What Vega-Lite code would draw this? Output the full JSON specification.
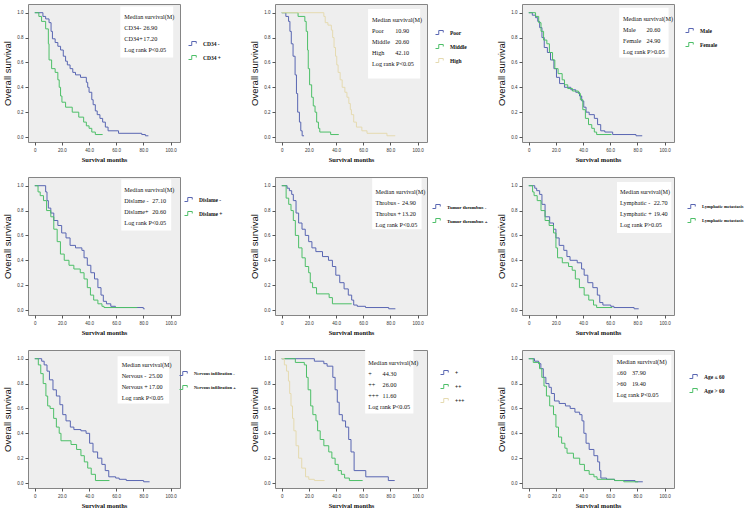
{
"$schema":"https://vega.github.io/schema/vega-lite/v6.json",
"background":"white",
"padding":{"left":2,"top":3,"right":0,"bottom":0},
"columns":3,
"spacing":{"row":35,"column":95},
"bounds":"flush",
"align":"all",
"resolve":{"scale":{"color":"independent"},"legend":{"color":"independent"}},
"config":{
 "view":{"fill":"#eeeeee","stroke":"#858585","strokeWidth":1},
 "axis":{"domain":false,"grid":false,"tickSize":3,"tickColor":"#555","labelFontSize":4.5,"labelColor":"#333","labelFont":"Liberation Sans","labelPadding":2,"labelOverlap":false,"labelFlush":false,"labelSeparation":0},
 "axisX":{"titleFont":"Liberation Serif","titleFontSize":6.5,"titleFontWeight":"bold","titlePadding":5,"titleColor":"#111"},
 "axisY":{"titleFont":"Liberation Sans","titleFontSize":9.5,"titleFontWeight":"normal","titlePadding":4,"titleColor":"#111"},
 "legend":{"orient":"none","symbolType":"M-1,0.4L-0.35,0.4L-0.35,-0.4L0.55,-0.4L0.55,0","symbolSize":100,"symbolStrokeWidth":1,"symbolFillColor":"transparent","labelFont":"Liberation Serif","labelFontSize":5.5,"labelFontWeight":"bold","labelColor":"#111","rowPadding":4,"labelOffset":4,"padding":0},
 "text":{"font":"Liberation Serif","fontSize":6.2,"align":"left","baseline":"top","lineHeight":11,"color":"#111"},
 "line":{"interpolate":"step-after","strokeWidth":1}
},
"concat":[
{"width":152,"height":138,"layer":[
 {"data":{"values":[{}]},"mark":{"type":"rect","fill":"white"},"encoding":{"x":{"datum":63},"x2":{"datum":102},"y":{"datum":1.05},"y2":{"datum":0.64}}},
 {"data":{"values":[
  {"g":"CD34 -","t":0,"s":1},{"g":"CD34 -","t":6,"s":0.97},{"g":"CD34 -","t":8,"s":0.95},{"g":"CD34 -","t":10.5,"s":0.92},{"g":"CD34 -","t":12,"s":0.85},{"g":"CD34 -","t":13,"s":0.79},{"g":"CD34 -","t":15,"s":0.76},{"g":"CD34 -","t":17,"s":0.73},{"g":"CD34 -","t":19,"s":0.7},{"g":"CD34 -","t":21,"s":0.65},{"g":"CD34 -","t":22.7,"s":0.61},{"g":"CD34 -","t":24,"s":0.58},{"g":"CD34 -","t":26,"s":0.55},{"g":"CD34 -","t":28,"s":0.52},{"g":"CD34 -","t":30,"s":0.5},{"g":"CD34 -","t":33.7,"s":0.48},{"g":"CD34 -","t":38,"s":0.44},{"g":"CD34 -","t":39,"s":0.4},{"g":"CD34 -","t":40,"s":0.36},{"g":"CD34 -","t":42,"s":0.3},{"g":"CD34 -","t":43,"s":0.26},{"g":"CD34 -","t":44.6,"s":0.21},{"g":"CD34 -","t":46,"s":0.18},{"g":"CD34 -","t":48,"s":0.15},{"g":"CD34 -","t":50,"s":0.12},{"g":"CD34 -","t":52,"s":0.08},{"g":"CD34 -","t":54,"s":0.05},{"g":"CD34 -","t":61.7,"s":0.03},{"g":"CD34 -","t":78.8,"s":0.02},{"g":"CD34 -","t":81.5,"s":0.01},{"g":"CD34 -","t":83.7,"s":0.01},
  {"g":"CD34 +","t":0,"s":1},{"g":"CD34 +","t":3,"s":0.97},{"g":"CD34 +","t":5,"s":0.93},{"g":"CD34 +","t":8,"s":0.87},{"g":"CD34 +","t":10,"s":0.75},{"g":"CD34 +","t":10.5,"s":0.62},{"g":"CD34 +","t":12.4,"s":0.55},{"g":"CD34 +","t":15,"s":0.52},{"g":"CD34 +","t":17,"s":0.46},{"g":"CD34 +","t":18,"s":0.4},{"g":"CD34 +","t":19,"s":0.33},{"g":"CD34 +","t":20,"s":0.28},{"g":"CD34 +","t":22.7,"s":0.24},{"g":"CD34 +","t":27.6,"s":0.2},{"g":"CD34 +","t":32.4,"s":0.16},{"g":"CD34 +","t":36,"s":0.12},{"g":"CD34 +","t":38,"s":0.09},{"g":"CD34 +","t":40,"s":0.07},{"g":"CD34 +","t":42,"s":0.04},{"g":"CD34 +","t":44.6,"s":0.02},{"g":"CD34 +","t":50,"s":0.02}
 ]},"mark":"line","encoding":{
  "x":{"field":"t","type":"quantitative","scale":{"domain":[-5,107],"nice":false,"zero":false},"axis":{"values":[0,20,40,60,80,100],"labelOverlap":false,"tickCount":6,"labelExpr":"datum.value==0?'0':format(datum.value,'.1f')","title":"Survival months"}},
  "y":{"field":"s","type":"quantitative","scale":{"domain":[-0.04,1.07],"nice":false,"zero":false},"axis":{"values":[0,0.2,0.4,0.6,0.8,1],"labelOverlap":false,"tickCount":6,"format":".1f","title":"Overall survival"}},
  "color":{"field":"g","type":"nominal","scale":{"domain":["CD34 -","CD34 +"],"range":["#5966b2","#4dbf68"]},"legend":{"title":null,"legendX":160,"legendY":34}}}},
 {"data":{"values":[{"a":["Median survival(M)","CD34-","CD34+","Log rank  P<0.05"],"b":["","26.90","17.20",""]}]},"mark":"text","encoding":{"x":{"datum":66},"y":{"datum":0.987},"text":{"field":"a"}}},
 {"data":{"values":[{"a":["Median survival(M)","CD34-","CD34+","Log rank  P<0.05"],"b":["","26.90","17.20",""]}]},"mark":"text","encoding":{"x":{"datum":80},"y":{"datum":0.987},"text":{"field":"b"}}}
]},
{"width":152,"height":138,"layer":[
 {"data":{"values":[{}]},"mark":{"type":"rect","fill":"white"},"encoding":{"x":{"datum":63.6},"x2":{"datum":102},"y":{"datum":1.03},"y2":{"datum":0.47}}},
 {"data":{"values":[
  {"g":"Poor","t":0,"s":1},{"g":"Poor","t":3,"s":0.97},{"g":"Poor","t":5,"s":0.93},{"g":"Poor","t":6,"s":0.85},{"g":"Poor","t":7,"s":0.75},{"g":"Poor","t":8.3,"s":0.65},{"g":"Poor","t":9.8,"s":0.5},{"g":"Poor","t":10.8,"s":0.35},{"g":"Poor","t":11.7,"s":0.2},{"g":"Poor","t":13,"s":0.12},{"g":"Poor","t":14,"s":0.05},{"g":"Poor","t":15,"s":0.01},{"g":"Poor","t":16.4,"s":0.01},
  {"g":"Middle","t":0,"s":1},{"g":"Middle","t":12,"s":0.97},{"g":"Middle","t":17,"s":0.93},{"g":"Middle","t":18,"s":0.85},{"g":"Middle","t":19,"s":0.7},{"g":"Middle","t":19.5,"s":0.55},{"g":"Middle","t":20.5,"s":0.42},{"g":"Middle","t":22,"s":0.32},{"g":"Middle","t":23.2,"s":0.25},{"g":"Middle","t":24.5,"s":0.2},{"g":"Middle","t":25.7,"s":0.12},{"g":"Middle","t":27,"s":0.07},{"g":"Middle","t":28,"s":0.04},{"g":"Middle","t":36,"s":0.02},{"g":"Middle","t":42,"s":0.02},
  {"g":"High","t":0,"s":1},{"g":"High","t":31,"s":0.97},{"g":"High","t":32,"s":0.92},{"g":"High","t":34,"s":0.9},{"g":"High","t":36.5,"s":0.86},{"g":"High","t":37.5,"s":0.8},{"g":"High","t":38.5,"s":0.72},{"g":"High","t":39.6,"s":0.65},{"g":"High","t":40.5,"s":0.58},{"g":"High","t":41.5,"s":0.52},{"g":"High","t":43,"s":0.46},{"g":"High","t":44.5,"s":0.4},{"g":"High","t":46.5,"s":0.36},{"g":"High","t":48,"s":0.32},{"g":"High","t":49.4,"s":0.27},{"g":"High","t":50.5,"s":0.22},{"g":"High","t":51.3,"s":0.18},{"g":"High","t":53,"s":0.12},{"g":"High","t":55,"s":0.08},{"g":"High","t":59,"s":0.05},{"g":"High","t":62.8,"s":0.03},{"g":"High","t":77.5,"s":0.01},{"g":"High","t":83.6,"s":0.01}
 ]},"mark":"line","encoding":{
  "x":{"field":"t","type":"quantitative","scale":{"domain":[-5,107],"nice":false,"zero":false},"axis":{"values":[0,20,40,60,80,100],"labelOverlap":false,"tickCount":6,"labelExpr":"datum.value==0?'0':format(datum.value,'.1f')","title":"Survival months"}},
  "y":{"field":"s","type":"quantitative","scale":{"domain":[-0.04,1.07],"nice":false,"zero":false},"axis":{"values":[0,0.2,0.4,0.6,0.8,1],"labelOverlap":false,"tickCount":6,"format":".1f","title":"Overall survival"}},
  "color":{"field":"g","type":"nominal","scale":{"domain":["Poor","Middle","High"],"range":["#5966b2","#4dbf68","#e5dab0"]},"legend":{"title":null,"legendX":160,"legendY":23}}}},
 {"data":{"values":[{"a":["Median survival(M)","Poor","Middle","High","Log rank  P<0.05"],"b":["","10.90","20.60","42.10",""]}]},"mark":"text","encoding":{"x":{"datum":66.5},"y":{"datum":0.967},"text":{"field":"a"}}},
 {"data":{"values":[{"a":["Median survival(M)","Poor","Middle","High","Log rank  P<0.05"],"b":["","10.90","20.60","42.10",""]}]},"mark":"text","encoding":{"x":{"datum":83.6},"y":{"datum":0.967},"text":{"field":"b"}}}
]},
{"width":152,"height":138,"layer":[
 {"data":{"values":[{}]},"mark":{"type":"rect","fill":"white"},"encoding":{"x":{"datum":66.6},"x2":{"datum":103},"y":{"datum":1.04},"y2":{"datum":0.64}}},
 {"data":{"values":[
  {"g":"Male","t":0,"s":1},{"g":"Male","t":2.6,"s":0.98},{"g":"Male","t":5,"s":0.96},{"g":"Male","t":6.6,"s":0.93},{"g":"Male","t":8,"s":0.88},{"g":"Male","t":9.7,"s":0.8},{"g":"Male","t":11.4,"s":0.72},{"g":"Male","t":13.7,"s":0.68},{"g":"Male","t":16,"s":0.62},{"g":"Male","t":18.5,"s":0.55},{"g":"Male","t":20.4,"s":0.48},{"g":"Male","t":22.7,"s":0.43},{"g":"Male","t":26.3,"s":0.4},{"g":"Male","t":31,"s":0.38},{"g":"Male","t":34.6,"s":0.36},{"g":"Male","t":37.4,"s":0.33},{"g":"Male","t":39,"s":0.29},{"g":"Male","t":40.5,"s":0.24},{"g":"Male","t":42.2,"s":0.2},{"g":"Male","t":44.5,"s":0.18},{"g":"Male","t":48.3,"s":0.15},{"g":"Male","t":50.7,"s":0.1},{"g":"Male","t":53,"s":0.05},{"g":"Male","t":56,"s":0.04},{"g":"Male","t":61.8,"s":0.02},{"g":"Male","t":79,"s":0.01},{"g":"Male","t":83.6,"s":0.01},
  {"g":"Female","t":0,"s":1},{"g":"Female","t":5,"s":0.97},{"g":"Female","t":7.3,"s":0.92},{"g":"Female","t":9,"s":0.85},{"g":"Female","t":10.9,"s":0.78},{"g":"Female","t":13.3,"s":0.75},{"g":"Female","t":15.2,"s":0.68},{"g":"Female","t":17.5,"s":0.62},{"g":"Female","t":19.2,"s":0.55},{"g":"Female","t":21.6,"s":0.51},{"g":"Female","t":24.6,"s":0.46},{"g":"Female","t":26.3,"s":0.42},{"g":"Female","t":28.7,"s":0.39},{"g":"Female","t":32.2,"s":0.37},{"g":"Female","t":36.5,"s":0.35},{"g":"Female","t":38,"s":0.3},{"g":"Female","t":39.8,"s":0.22},{"g":"Female","t":41.7,"s":0.15},{"g":"Female","t":44,"s":0.1},{"g":"Female","t":46.4,"s":0.07},{"g":"Female","t":48.3,"s":0.04},{"g":"Female","t":50,"s":0.02},{"g":"Female","t":61,"s":0.02}
 ]},"mark":"line","encoding":{
  "x":{"field":"t","type":"quantitative","scale":{"domain":[-5,107],"nice":false,"zero":false},"axis":{"values":[0,20,40,60,80,100],"labelOverlap":false,"tickCount":6,"labelExpr":"datum.value==0?'0':format(datum.value,'.1f')","title":"Survival months"}},
  "y":{"field":"s","type":"quantitative","scale":{"domain":[-0.04,1.07],"nice":false,"zero":false},"axis":{"values":[0,0.2,0.4,0.6,0.8,1],"labelOverlap":false,"tickCount":6,"format":".1f","title":"Overall survival"}},
  "color":{"field":"g","type":"nominal","scale":{"domain":["Male","Female"],"range":["#5966b2","#4dbf68"]},"legend":{"title":null,"legendX":163,"legendY":21}}}},
 {"data":{"values":[{"a":["Median survival(M)","Male","Female","Log rank  P>0.05"],"b":["","20.60","24.90",""]}]},"mark":"text","encoding":{"x":{"datum":69.4},"y":{"datum":0.977},"text":{"field":"a"}}},
 {"data":{"values":[{"a":["Median survival(M)","Male","Female","Log rank  P>0.05"],"b":["","20.60","24.90",""]}]},"mark":"text","encoding":{"x":{"datum":86.7},"y":{"datum":0.977},"text":{"field":"b"}}}
]},
{"width":152,"height":138,"layer":[
 {"data":{"values":[{}]},"mark":{"type":"rect","fill":"white"},"encoding":{"x":{"datum":63.7},"x2":{"datum":100.5},"y":{"datum":1.05},"y2":{"datum":0.64}}},
 {"data":{"values":[
  {"g":"Dislame  -","t":0,"s":1},{"g":"Dislame  -","t":8,"s":0.95},{"g":"Dislame  -","t":9,"s":0.88},{"g":"Dislame  -","t":10,"s":0.82},{"g":"Dislame  -","t":11.8,"s":0.78},{"g":"Dislame  -","t":14,"s":0.72},{"g":"Dislame  -","t":17,"s":0.68},{"g":"Dislame  -","t":19.8,"s":0.62},{"g":"Dislame  -","t":23,"s":0.58},{"g":"Dislame  -","t":26,"s":0.52},{"g":"Dislame  -","t":30,"s":0.5},{"g":"Dislame  -","t":34.7,"s":0.48},{"g":"Dislame  -","t":36.3,"s":0.42},{"g":"Dislame  -","t":38.7,"s":0.36},{"g":"Dislame  -","t":41.3,"s":0.3},{"g":"Dislame  -","t":44,"s":0.25},{"g":"Dislame  -","t":46.5,"s":0.18},{"g":"Dislame  -","t":48.8,"s":0.12},{"g":"Dislame  -","t":50.5,"s":0.07},{"g":"Dislame  -","t":52.8,"s":0.05},{"g":"Dislame  -","t":56,"s":0.03},{"g":"Dislame  -","t":59.4,"s":0.02},{"g":"Dislame  -","t":80,"s":0.01},{"g":"Dislame  -","t":81,"s":0.01},
  {"g":"Dislame  +","t":0,"s":1},{"g":"Dislame  +","t":2.4,"s":0.95},{"g":"Dislame  +","t":4,"s":0.92},{"g":"Dislame  +","t":6.4,"s":0.88},{"g":"Dislame  +","t":8.7,"s":0.8},{"g":"Dislame  +","t":11.8,"s":0.75},{"g":"Dislame  +","t":14,"s":0.65},{"g":"Dislame  +","t":16.5,"s":0.55},{"g":"Dislame  +","t":18.9,"s":0.45},{"g":"Dislame  +","t":21.7,"s":0.4},{"g":"Dislame  +","t":25.2,"s":0.36},{"g":"Dislame  +","t":28.8,"s":0.33},{"g":"Dislame  +","t":33.5,"s":0.3},{"g":"Dislame  +","t":36.3,"s":0.25},{"g":"Dislame  +","t":38.7,"s":0.18},{"g":"Dislame  +","t":41,"s":0.12},{"g":"Dislame  +","t":43.4,"s":0.08},{"g":"Dislame  +","t":46.5,"s":0.05},{"g":"Dislame  +","t":49.5,"s":0.03},{"g":"Dislame  +","t":51,"s":0.02},{"g":"Dislame  +","t":75.5,"s":0.02}
 ]},"mark":"line","encoding":{
  "x":{"field":"t","type":"quantitative","scale":{"domain":[-5,107],"nice":false,"zero":false},"axis":{"values":[0,20,40,60,80,100],"labelOverlap":false,"tickCount":6,"labelExpr":"datum.value==0?'0':format(datum.value,'.1f')","title":"Survival months"}},
  "y":{"field":"s","type":"quantitative","scale":{"domain":[-0.04,1.07],"nice":false,"zero":false},"axis":{"values":[0,0.2,0.4,0.6,0.8,1],"labelOverlap":false,"tickCount":6,"format":".1f","title":"Overall survival"}},
  "color":{"field":"g","type":"nominal","scale":{"domain":["Dislame  -","Dislame  +"],"range":["#5966b2","#4dbf68"]},"legend":{"title":null,"legendX":156,"legendY":17}}}},
 {"data":{"values":[{"a":["Median survival(M)","Dislame -","Dislame+","Log rank  P<0.05"],"b":["","27.10","20.60",""]}]},"mark":"text","encoding":{"x":{"datum":66},"y":{"datum":0.987},"text":{"field":"a"}}},
 {"data":{"values":[{"a":["Median survival(M)","Dislame -","Dislame+","Log rank  P<0.05"],"b":["","27.10","20.60",""]}]},"mark":"text","encoding":{"x":{"datum":86.5},"y":{"datum":0.987},"text":{"field":"b"}}}
]},
{"width":152,"height":138,"layer":[
 {"data":{"values":[{}]},"mark":{"type":"rect","fill":"white"},"encoding":{"x":{"datum":66.6},"x2":{"datum":103},"y":{"datum":1.06},"y2":{"datum":0.65}}},
 {"data":{"values":[
  {"g":"Tumor thrombus -","t":0,"s":1},{"g":"Tumor thrombus -","t":3.9,"s":0.98},{"g":"Tumor thrombus -","t":5.6,"s":0.96},{"g":"Tumor thrombus -","t":7.3,"s":0.93},{"g":"Tumor thrombus -","t":8.5,"s":0.88},{"g":"Tumor thrombus -","t":10.5,"s":0.78},{"g":"Tumor thrombus -","t":12.4,"s":0.7},{"g":"Tumor thrombus -","t":14.9,"s":0.65},{"g":"Tumor thrombus -","t":17.3,"s":0.6},{"g":"Tumor thrombus -","t":19.8,"s":0.55},{"g":"Tumor thrombus -","t":22.2,"s":0.5},{"g":"Tumor thrombus -","t":25.1,"s":0.47},{"g":"Tumor thrombus -","t":30,"s":0.43},{"g":"Tumor thrombus -","t":34.4,"s":0.4},{"g":"Tumor thrombus -","t":37.3,"s":0.35},{"g":"Tumor thrombus -","t":39.8,"s":0.28},{"g":"Tumor thrombus -","t":42.7,"s":0.22},{"g":"Tumor thrombus -","t":45.9,"s":0.17},{"g":"Tumor thrombus -","t":49,"s":0.12},{"g":"Tumor thrombus -","t":51.5,"s":0.08},{"g":"Tumor thrombus -","t":53,"s":0.04},{"g":"Tumor thrombus -","t":55.6,"s":0.03},{"g":"Tumor thrombus -","t":61.7,"s":0.02},{"g":"Tumor thrombus -","t":78.8,"s":0.01},{"g":"Tumor thrombus -","t":83.7,"s":0.01},
  {"g":"Tumor thrombus +","t":0,"s":1},{"g":"Tumor thrombus +","t":3.2,"s":0.9},{"g":"Tumor thrombus +","t":5.1,"s":0.85},{"g":"Tumor thrombus +","t":6.8,"s":0.8},{"g":"Tumor thrombus +","t":8.5,"s":0.72},{"g":"Tumor thrombus +","t":10,"s":0.6},{"g":"Tumor thrombus +","t":12.4,"s":0.5},{"g":"Tumor thrombus +","t":14.9,"s":0.42},{"g":"Tumor thrombus +","t":17.3,"s":0.35},{"g":"Tumor thrombus +","t":19.8,"s":0.3},{"g":"Tumor thrombus +","t":21,"s":0.22},{"g":"Tumor thrombus +","t":22.7,"s":0.18},{"g":"Tumor thrombus +","t":25.6,"s":0.13},{"g":"Tumor thrombus +","t":34.9,"s":0.1},{"g":"Tumor thrombus +","t":37.3,"s":0.05},{"g":"Tumor thrombus +","t":51.5,"s":0.05}
 ]},"mark":"line","encoding":{
  "x":{"field":"t","type":"quantitative","scale":{"domain":[-5,107],"nice":false,"zero":false},"axis":{"values":[0,20,40,60,80,100],"labelOverlap":false,"tickCount":6,"labelExpr":"datum.value==0?'0':format(datum.value,'.1f')","title":"Survival months"}},
  "y":{"field":"s","type":"quantitative","scale":{"domain":[-0.04,1.07],"nice":false,"zero":false},"axis":{"values":[0,0.2,0.4,0.6,0.8,1],"labelOverlap":false,"tickCount":6,"format":".1f","title":"Overall survival"}},
  "color":{"field":"g","type":"nominal","scale":{"domain":["Tumor thrombus -","Tumor thrombus +"],"range":["#5966b2","#4dbf68"]},"legend":{"title":null,"legendX":157,"legendY":24,"labelFontSize":5}}}},
 {"data":{"values":[{"a":["Median survival(M)","Throbus -","Throbus +","Log rank  P<0.05"],"b":["","24.90","13.20",""]}]},"mark":"text","encoding":{"x":{"datum":69},"y":{"datum":0.977},"text":{"field":"a"}}},
 {"data":{"values":[{"a":["Median survival(M)","Throbus -","Throbus +","Log rank  P<0.05"],"b":["","24.90","13.20",""]}]},"mark":"text","encoding":{"x":{"datum":88.5},"y":{"datum":0.977},"text":{"field":"b"}}}
]},
{"width":152,"height":138,"layer":[
 {"data":{"values":[{}]},"mark":{"type":"rect","fill":"white"},"encoding":{"x":{"datum":65},"x2":{"datum":105},"y":{"datum":1.03},"y2":{"datum":0.62}}},
 {"data":{"values":[
  {"g":"Lymphatic metastasis -","t":0,"s":1},{"g":"Lymphatic metastasis -","t":4.4,"s":0.98},{"g":"Lymphatic metastasis -","t":5.8,"s":0.96},{"g":"Lymphatic metastasis -","t":8,"s":0.93},{"g":"Lymphatic metastasis -","t":9.7,"s":0.85},{"g":"Lymphatic metastasis -","t":12,"s":0.75},{"g":"Lymphatic metastasis -","t":15.4,"s":0.7},{"g":"Lymphatic metastasis -","t":18.2,"s":0.65},{"g":"Lymphatic metastasis -","t":20,"s":0.58},{"g":"Lymphatic metastasis -","t":22.4,"s":0.52},{"g":"Lymphatic metastasis -","t":25.8,"s":0.48},{"g":"Lymphatic metastasis -","t":28.1,"s":0.43},{"g":"Lymphatic metastasis -","t":30.4,"s":0.4},{"g":"Lymphatic metastasis -","t":35.7,"s":0.38},{"g":"Lymphatic metastasis -","t":38.9,"s":0.33},{"g":"Lymphatic metastasis -","t":40.8,"s":0.28},{"g":"Lymphatic metastasis -","t":43.5,"s":0.22},{"g":"Lymphatic metastasis -","t":47.2,"s":0.18},{"g":"Lymphatic metastasis -","t":50.5,"s":0.12},{"g":"Lymphatic metastasis -","t":52.3,"s":0.06},{"g":"Lymphatic metastasis -","t":54.6,"s":0.04},{"g":"Lymphatic metastasis -","t":60.4,"s":0.03},{"g":"Lymphatic metastasis -","t":62.7,"s":0.02},{"g":"Lymphatic metastasis -","t":77.6,"s":0.01},{"g":"Lymphatic metastasis -","t":81,"s":0.01},
  {"g":"Lymphatic metastasis +","t":0,"s":1},{"g":"Lymphatic metastasis +","t":2.8,"s":0.95},{"g":"Lymphatic metastasis +","t":3.9,"s":0.92},{"g":"Lymphatic metastasis +","t":6.2,"s":0.88},{"g":"Lymphatic metastasis +","t":9,"s":0.8},{"g":"Lymphatic metastasis +","t":12,"s":0.72},{"g":"Lymphatic metastasis +","t":15,"s":0.68},{"g":"Lymphatic metastasis +","t":18.2,"s":0.62},{"g":"Lymphatic metastasis +","t":20,"s":0.5},{"g":"Lymphatic metastasis +","t":21.2,"s":0.42},{"g":"Lymphatic metastasis +","t":24.7,"s":0.38},{"g":"Lymphatic metastasis +","t":29.3,"s":0.35},{"g":"Lymphatic metastasis +","t":32,"s":0.32},{"g":"Lymphatic metastasis +","t":34.3,"s":0.25},{"g":"Lymphatic metastasis +","t":37.3,"s":0.18},{"g":"Lymphatic metastasis +","t":40.8,"s":0.12},{"g":"Lymphatic metastasis +","t":44.2,"s":0.08},{"g":"Lymphatic metastasis +","t":47.7,"s":0.04},{"g":"Lymphatic metastasis +","t":50,"s":0.02},{"g":"Lymphatic metastasis +","t":61.5,"s":0.02}
 ]},"mark":"line","encoding":{
  "x":{"field":"t","type":"quantitative","scale":{"domain":[-5,107],"nice":false,"zero":false},"axis":{"values":[0,20,40,60,80,100],"labelOverlap":false,"tickCount":6,"labelExpr":"datum.value==0?'0':format(datum.value,'.1f')","title":"Survival months"}},
  "y":{"field":"s","type":"quantitative","scale":{"domain":[-0.04,1.07],"nice":false,"zero":false},"axis":{"values":[0,0.2,0.4,0.6,0.8,1],"labelOverlap":false,"tickCount":6,"format":".1f","title":"Overall survival"}},
  "color":{"field":"g","type":"nominal","scale":{"domain":["Lymphatic metastasis -","Lymphatic metastasis +"],"range":["#5966b2","#4dbf68"]},"legend":{"title":null,"legendX":165,"legendY":24,"labelFontSize":4.5,"labelExpr":"'Lymphatic metastasis'"}}}},
 {"data":{"values":[{"a":["Median survival(M)","Lymphatic -","Lymphatic +","Log rank  P>0.05"],"b":["","22.70","19.40",""]}]},"mark":"text","encoding":{"x":{"datum":67.3},"y":{"datum":0.977},"text":{"field":"a"}}},
 {"data":{"values":[{"a":["Median survival(M)","Lymphatic -","Lymphatic +","Log rank  P>0.05"],"b":["","22.70","19.40",""]}]},"mark":"text","encoding":{"x":{"datum":92},"y":{"datum":0.977},"text":{"field":"b"}}}
]},
{"width":152,"height":138,"layer":[
 {"data":{"values":[{}]},"mark":{"type":"rect","fill":"white"},"encoding":{"x":{"datum":61},"x2":{"datum":99},"y":{"datum":1.02},"y2":{"datum":0.64}}},
 {"data":{"values":[
  {"g":"Nervous infiltration  -","t":0,"s":1},{"g":"Nervous infiltration  -","t":5.1,"s":0.98},{"g":"Nervous infiltration  -","t":6.9,"s":0.95},{"g":"Nervous infiltration  -","t":9,"s":0.9},{"g":"Nervous infiltration  -","t":10.8,"s":0.83},{"g":"Nervous infiltration  -","t":13.4,"s":0.75},{"g":"Nervous infiltration  -","t":15.9,"s":0.7},{"g":"Nervous infiltration  -","t":18.5,"s":0.63},{"g":"Nervous infiltration  -","t":20.6,"s":0.55},{"g":"Nervous infiltration  -","t":23,"s":0.5},{"g":"Nervous infiltration  -","t":26.2,"s":0.45},{"g":"Nervous infiltration  -","t":28.8,"s":0.43},{"g":"Nervous infiltration  -","t":34,"s":0.42},{"g":"Nervous infiltration  -","t":37.8,"s":0.4},{"g":"Nervous infiltration  -","t":40.4,"s":0.32},{"g":"Nervous infiltration  -","t":42.9,"s":0.25},{"g":"Nervous infiltration  -","t":46.3,"s":0.2},{"g":"Nervous infiltration  -","t":49.4,"s":0.15},{"g":"Nervous infiltration  -","t":51.9,"s":0.1},{"g":"Nervous infiltration  -","t":54.5,"s":0.05},{"g":"Nervous infiltration  -","t":59.6,"s":0.04},{"g":"Nervous infiltration  -","t":62.2,"s":0.03},{"g":"Nervous infiltration  -","t":67.4,"s":0.02},{"g":"Nervous infiltration  -","t":80.2,"s":0.01},{"g":"Nervous infiltration  -","t":84.6,"s":0.01},
  {"g":"Nervous infiltration  +","t":0,"s":1},{"g":"Nervous infiltration  +","t":2.6,"s":0.95},{"g":"Nervous infiltration  +","t":4.4,"s":0.88},{"g":"Nervous infiltration  +","t":6.2,"s":0.8},{"g":"Nervous infiltration  +","t":8.2,"s":0.7},{"g":"Nervous infiltration  +","t":9.5,"s":0.62},{"g":"Nervous infiltration  +","t":11.3,"s":0.6},{"g":"Nervous infiltration  +","t":13.9,"s":0.52},{"g":"Nervous infiltration  +","t":15.9,"s":0.45},{"g":"Nervous infiltration  +","t":18,"s":0.4},{"g":"Nervous infiltration  +","t":19.3,"s":0.34},{"g":"Nervous infiltration  +","t":26.7,"s":0.31},{"g":"Nervous infiltration  +","t":30.8,"s":0.27},{"g":"Nervous infiltration  +","t":34,"s":0.22},{"g":"Nervous infiltration  +","t":36.5,"s":0.17},{"g":"Nervous infiltration  +","t":39,"s":0.12},{"g":"Nervous infiltration  +","t":41.6,"s":0.07},{"g":"Nervous infiltration  +","t":44.7,"s":0.02},{"g":"Nervous infiltration  +","t":55,"s":0.02}
 ]},"mark":"line","encoding":{
  "x":{"field":"t","type":"quantitative","scale":{"domain":[-5,107],"nice":false,"zero":false},"axis":{"values":[0,20,40,60,80,100],"labelOverlap":false,"tickCount":6,"labelExpr":"datum.value==0?'0':format(datum.value,'.1f')","title":"Survival months"}},
  "y":{"field":"s","type":"quantitative","scale":{"domain":[-0.04,1.07],"nice":false,"zero":false},"axis":{"values":[0,0.2,0.4,0.6,0.8,1],"labelOverlap":false,"tickCount":6,"format":".1f","title":"Overall survival"}},
  "color":{"field":"g","type":"nominal","scale":{"domain":["Nervous infiltration  -","Nervous infiltration  +"],"range":["#5966b2","#4dbf68"]},"legend":{"title":null,"legendX":151,"legendY":18,"labelFontSize":4.5}}}},
 {"data":{"values":[{"a":["Median survival(M)","Nervous -","Nervous +","Log rank  P<0.05"],"b":["","25.00","17.00",""]}]},"mark":"text","encoding":{"x":{"datum":64},"y":{"datum":0.977},"text":{"field":"a"}}},
 {"data":{"values":[{"a":["Median survival(M)","Nervous -","Nervous +","Log rank  P<0.05"],"b":["","25.00","17.00",""]}]},"mark":"text","encoding":{"x":{"datum":84},"y":{"datum":0.977},"text":{"field":"b"}}}
]},
{"width":152,"height":138,"layer":[
 {"data":{"values":[{}]},"mark":{"type":"rect","fill":"white"},"encoding":{"x":{"datum":61.4},"x2":{"datum":97},"y":{"datum":1.07},"y2":{"datum":0.56}}},
 {"data":{"values":[
  {"g":"+","t":0,"s":1},{"g":"+","t":24,"s":0.98},{"g":"+","t":31,"s":0.96},{"g":"+","t":33.4,"s":0.94},{"g":"+","t":37.6,"s":0.85},{"g":"+","t":39.3,"s":0.75},{"g":"+","t":40.9,"s":0.65},{"g":"+","t":42.3,"s":0.55},{"g":"+","t":44.6,"s":0.5},{"g":"+","t":47,"s":0.45},{"g":"+","t":49.3,"s":0.35},{"g":"+","t":51,"s":0.25},{"g":"+","t":53.3,"s":0.1},{"g":"+","t":61.9,"s":0.05},{"g":"+","t":78.5,"s":0.02},{"g":"+","t":83.2,"s":0.02},
  {"g":"++","t":0,"s":1},{"g":"++","t":10,"s":0.97},{"g":"++","t":16.6,"s":0.95},{"g":"++","t":18.2,"s":0.85},{"g":"++","t":19.4,"s":0.75},{"g":"++","t":21.3,"s":0.62},{"g":"++","t":22.9,"s":0.55},{"g":"++","t":25.2,"s":0.5},{"g":"++","t":26.4,"s":0.42},{"g":"++","t":28.3,"s":0.35},{"g":"++","t":31,"s":0.3},{"g":"++","t":34.6,"s":0.25},{"g":"++","t":36.9,"s":0.2},{"g":"++","t":39.3,"s":0.15},{"g":"++","t":41.6,"s":0.1},{"g":"++","t":43.9,"s":0.07},{"g":"++","t":46.3,"s":0.04},{"g":"++","t":49.8,"s":0.02},{"g":"++","t":59.6,"s":0.02},
  {"g":"+++","t":0,"s":1},{"g":"+++","t":1.9,"s":0.95},{"g":"+++","t":3.5,"s":0.9},{"g":"+++","t":4.9,"s":0.82},{"g":"+++","t":5.8,"s":0.72},{"g":"+++","t":6.8,"s":0.62},{"g":"+++","t":7.9,"s":0.52},{"g":"+++","t":8.9,"s":0.42},{"g":"+++","t":10.5,"s":0.3},{"g":"+++","t":12.4,"s":0.2},{"g":"+++","t":14.7,"s":0.12},{"g":"+++","t":17.5,"s":0.05},{"g":"+++","t":19.9,"s":0.03},{"g":"+++","t":24,"s":0.02},{"g":"+++","t":31.5,"s":0.02}
 ]},"mark":"line","encoding":{
  "x":{"field":"t","type":"quantitative","scale":{"domain":[-5,107],"nice":false,"zero":false},"axis":{"values":[0,20,40,60,80,100],"labelOverlap":false,"tickCount":6,"labelExpr":"datum.value==0?'0':format(datum.value,'.1f')","title":"Survival months"}},
  "y":{"field":"s","type":"quantitative","scale":{"domain":[-0.04,1.07],"nice":false,"zero":false},"axis":{"values":[0,0.2,0.4,0.6,0.8,1],"labelOverlap":false,"tickCount":6,"format":".1f","title":"Overall survival"}},
  "color":{"field":"g","type":"nominal","scale":{"domain":["+","++","+++"],"range":["#5966b2","#4dbf68","#e5dab0"]},"legend":{"title":null,"legendX":165,"legendY":17}}}},
 {"data":{"values":[{"a":["Median survival(M)","+","++","+++","Log rank  P<0.05"],"b":["","44.30","26.00","11.60",""]}]},"mark":"text","encoding":{"x":{"datum":63.8},"y":{"datum":0.987},"text":{"field":"a"}}},
 {"data":{"values":[{"a":["Median survival(M)","+","++","+++","Log rank  P<0.05"],"b":["","44.30","26.00","11.60",""]}]},"mark":"text","encoding":{"x":{"datum":74.3},"y":{"datum":0.987},"text":{"field":"b"}}}
]},
{"width":152,"height":138,"layer":[
 {"data":{"values":[{}]},"mark":{"type":"rect","fill":"white"},"encoding":{"x":{"datum":62},"x2":{"datum":105},"y":{"datum":1.03},"y2":{"datum":0.65}}},
 {"data":{"values":[
  {"g":"Age ≤ 60","t":0,"s":1},{"g":"Age ≤ 60","t":4.2,"s":0.98},{"g":"Age ≤ 60","t":7.2,"s":0.96},{"g":"Age ≤ 60","t":8.9,"s":0.92},{"g":"Age ≤ 60","t":10.7,"s":0.85},{"g":"Age ≤ 60","t":12.6,"s":0.8},{"g":"Age ≤ 60","t":14.9,"s":0.77},{"g":"Age ≤ 60","t":16.6,"s":0.72},{"g":"Age ≤ 60","t":18.9,"s":0.66},{"g":"Age ≤ 60","t":22.4,"s":0.64},{"g":"Age ≤ 60","t":27,"s":0.62},{"g":"Age ≤ 60","t":30.5,"s":0.6},{"g":"Age ≤ 60","t":34,"s":0.57},{"g":"Age ≤ 60","t":37.5,"s":0.55},{"g":"Age ≤ 60","t":39.2,"s":0.5},{"g":"Age ≤ 60","t":40.6,"s":0.4},{"g":"Age ≤ 60","t":42.2,"s":0.32},{"g":"Age ≤ 60","t":44.5,"s":0.27},{"g":"Age ≤ 60","t":48,"s":0.22},{"g":"Age ≤ 60","t":50.8,"s":0.17},{"g":"Age ≤ 60","t":52.2,"s":0.1},{"g":"Age ≤ 60","t":53.1,"s":0.04},{"g":"Age ≤ 60","t":57.3,"s":0.03},{"g":"Age ≤ 60","t":63.2,"s":0.02},{"g":"Age ≤ 60","t":78.3,"s":0.01},{"g":"Age ≤ 60","t":84,"s":0.01},
  {"g":"Age > 60","t":0,"s":1},{"g":"Age > 60","t":3.3,"s":0.97},{"g":"Age > 60","t":7.9,"s":0.92},{"g":"Age > 60","t":9.6,"s":0.85},{"g":"Age > 60","t":11.2,"s":0.78},{"g":"Age > 60","t":13,"s":0.7},{"g":"Age > 60","t":15.4,"s":0.62},{"g":"Age > 60","t":18.2,"s":0.55},{"g":"Age > 60","t":20,"s":0.45},{"g":"Age > 60","t":21.9,"s":0.37},{"g":"Age > 60","t":24.2,"s":0.32},{"g":"Age > 60","t":26.6,"s":0.28},{"g":"Age > 60","t":28.2,"s":0.24},{"g":"Age > 60","t":32.9,"s":0.2},{"g":"Age > 60","t":37.5,"s":0.15},{"g":"Age > 60","t":41,"s":0.1},{"g":"Age > 60","t":44.5,"s":0.07},{"g":"Age > 60","t":48,"s":0.05},{"g":"Age > 60","t":50.3,"s":0.03},{"g":"Age > 60","t":63.2,"s":0.02},{"g":"Age > 60","t":70,"s":0.01},{"g":"Age > 60","t":80.6,"s":0.01}
 ]},"mark":"line","encoding":{
  "x":{"field":"t","type":"quantitative","scale":{"domain":[-5,107],"nice":false,"zero":false},"axis":{"values":[0,20,40,60,80,100],"labelOverlap":false,"tickCount":6,"labelExpr":"datum.value==0?'0':format(datum.value,'.1f')","title":"Survival months"}},
  "y":{"field":"s","type":"quantitative","scale":{"domain":[-0.04,1.07],"nice":false,"zero":false},"axis":{"values":[0,0.2,0.4,0.6,0.8,1],"labelOverlap":false,"tickCount":6,"format":".1f","title":"Overall survival"}},
  "color":{"field":"g","type":"nominal","scale":{"domain":["Age ≤ 60","Age > 60"],"range":["#5966b2","#4dbf68"]},"legend":{"title":null,"legendX":167,"legendY":21}}}},
 {"data":{"values":[{"a":["Median survival(M)","≤60",">60","Log rank  P<0.05"],"b":["","37.90","19.40",""]}]},"mark":"text","encoding":{"x":{"datum":64.8},"y":{"datum":0.997},"text":{"field":"a"}}},
 {"data":{"values":[{"a":["Median survival(M)","≤60",">60","Log rank  P<0.05"],"b":["","37.90","19.40",""]}]},"mark":"text","encoding":{"x":{"datum":76},"y":{"datum":0.997},"text":{"field":"b"}}}
]}
]
}
